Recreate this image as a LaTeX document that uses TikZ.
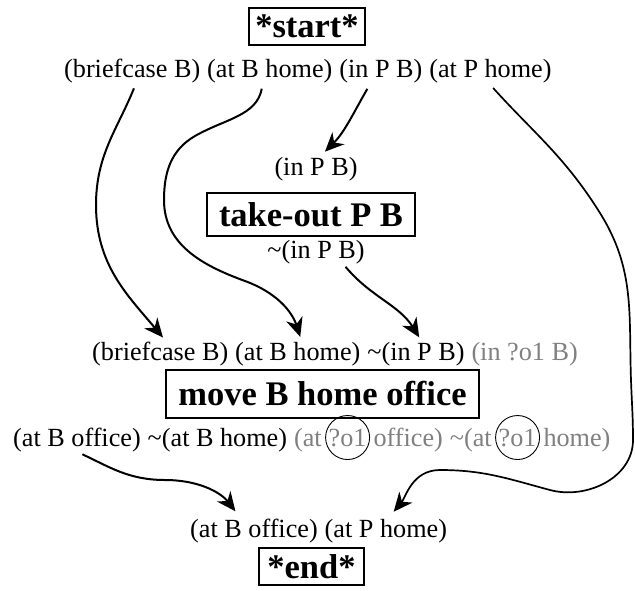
\documentclass[tikz,border=0pt]{standalone}
\usepackage{fontspec}
\setmainfont{Liberation Serif}
\usetikzlibrary{arrows.meta,calc}
\definecolor{ghost}{RGB}{128,128,128}
\tikzset{
  lit/.style={inner sep=0pt, anchor=base west, font=\fontsize{26.2}{31}\selectfont},
  ghostlit/.style={lit, text=ghost},
  actbox/.style={draw, line width=1.3pt, inner sep=0pt, font=\fontsize{34.5}{40}\selectfont\bfseries},
  flow/.style={line width=2pt, -{Stealth[length=19pt,width=17pt,inset=6pt]}},
  ring/.style={circle, draw, line width=0.9pt, minimum size=44pt, inner sep=0pt},
}
\begin{document}
\begin{tikzpicture}[x=1pt,y=1pt]
\useasboundingbox (0,0) rectangle (635,-590);
% start
\node[actbox, minimum width=116pt, minimum height=37pt] (start) at (307,-26.5) {*start*};
% row 1
\node[lit] (r1a) at (64,-77) {(briefcase B)};
\node[lit, xshift=6.6pt] (r1b) at (r1a.base east) {(at B home)};
\node[lit, xshift=6.6pt] (r1c) at (r1b.base east) {(in P B)};
\node[lit, xshift=6.6pt] (r1d) at (r1c.base east) {(at P home)};
% take-out
\node[lit, anchor=base] (pre) at (316,-175) {(in P B)};
\node[actbox, minimum width=208pt, minimum height=43pt] (take) at (311,-214.5) {take-out P B};
\node[lit, anchor=base] (post) at (316,-258) {\textasciitilde(in P B)};
% row 3
\node[lit] (r3a) at (92,-360) {(briefcase B)};
\node[lit, xshift=6.6pt] (r3b) at (r3a.base east) {(at B home)};
\node[lit, xshift=6.6pt] (r3c) at (r3b.base east) {\textasciitilde(in P B)};
\node[ghostlit, xshift=6.6pt] (r3d) at (r3c.base east) {(in ?o1 B)};
% move
\node[actbox, minimum width=313pt, minimum height=48pt] (move) at (322.5,-394) {move B home office};
% row 4
\node[lit] (r4a) at (13,-446) {(at B office)};
\node[lit, xshift=6.6pt] (r4b) at (r4a.base east) {\textasciitilde(at B home)};
\node[ghostlit, xshift=6.6pt] (r4c) at (r4b.base east) {(at};
\node[ghostlit, xshift=6.6pt] (r4d) at (r4c.base east) {?o1};
\node[ghostlit, xshift=6.6pt] (r4e) at (r4d.base east) {office)};
\node[ghostlit, xshift=6.6pt] (r4f) at (r4e.base east) {\textasciitilde(at};
\node[ghostlit, xshift=6.6pt] (r4g) at (r4f.base east) {?o1};
\node[ghostlit, xshift=6.6pt] (r4h) at (r4g.base east) {home)};
\node[ring] (ring1) at (r4d.center) {};
\node[ring] (ring2) at (r4g.center) {};
% row 5
\node[lit] (r5a) at (190,-537) {(at B office)};
\node[lit, xshift=6.6pt] (r5b) at (r5a.base east) {(at P home)};
\node[actbox, minimum width=105pt, minimum height=37pt] (end) at (311.5,-566.5) {*end*};
% arrows
\draw[flow, shorten <=6pt, shorten >=5pt] ($(r1a.south)+(4,0)$) to[out=-112,in=90] (96,-205) to[out=-90,in=130] ($(r3a.north)+(6,0)$);
\draw[flow, shorten <=6pt, shorten >=5pt] ($(r1b.south)+(-7,0)$) to[out=-100,in=30] (195,-136) to[out=-150,in=90] (164,-200) to[out=-90,in=160] (245,-281) to[out=-20,in=108] ($(r3b.north)+(4,0)$);
\draw[flow, shorten <=7pt, shorten >=7pt] ($(r1c.south)+(-10,0)$) to[out=-120,in=45] ($(pre.north)+(4,0)$);
\draw[flow, shorten <=4pt, shorten >=5pt] ($(post.south)+(27,0)$) to[out=-50,in=122] ($(r3c.north)+(6,0)$);
\draw[flow, line width=1.7pt, shorten <=7pt, shorten >=9pt] ($(r1d.south)+(-2,0)$) to[out=-48,in=122] (600,-213) to[out=-58,in=92] (631,-380) to[out=-88,in=90] (633,-440) to[out=-90,in=-15] (550,-490) to[out=165,in=0] (440,-470) to[out=180,in=50] ($(r5b.north)+(2,0)$);
\draw[flow, shorten <=6pt, shorten >=9pt] (r4a.south) to[out=-25,in=180] (165,-480) to[out=0,in=128] ($(r5a.north)+(-13,0)$);
\end{tikzpicture}
\end{document}
